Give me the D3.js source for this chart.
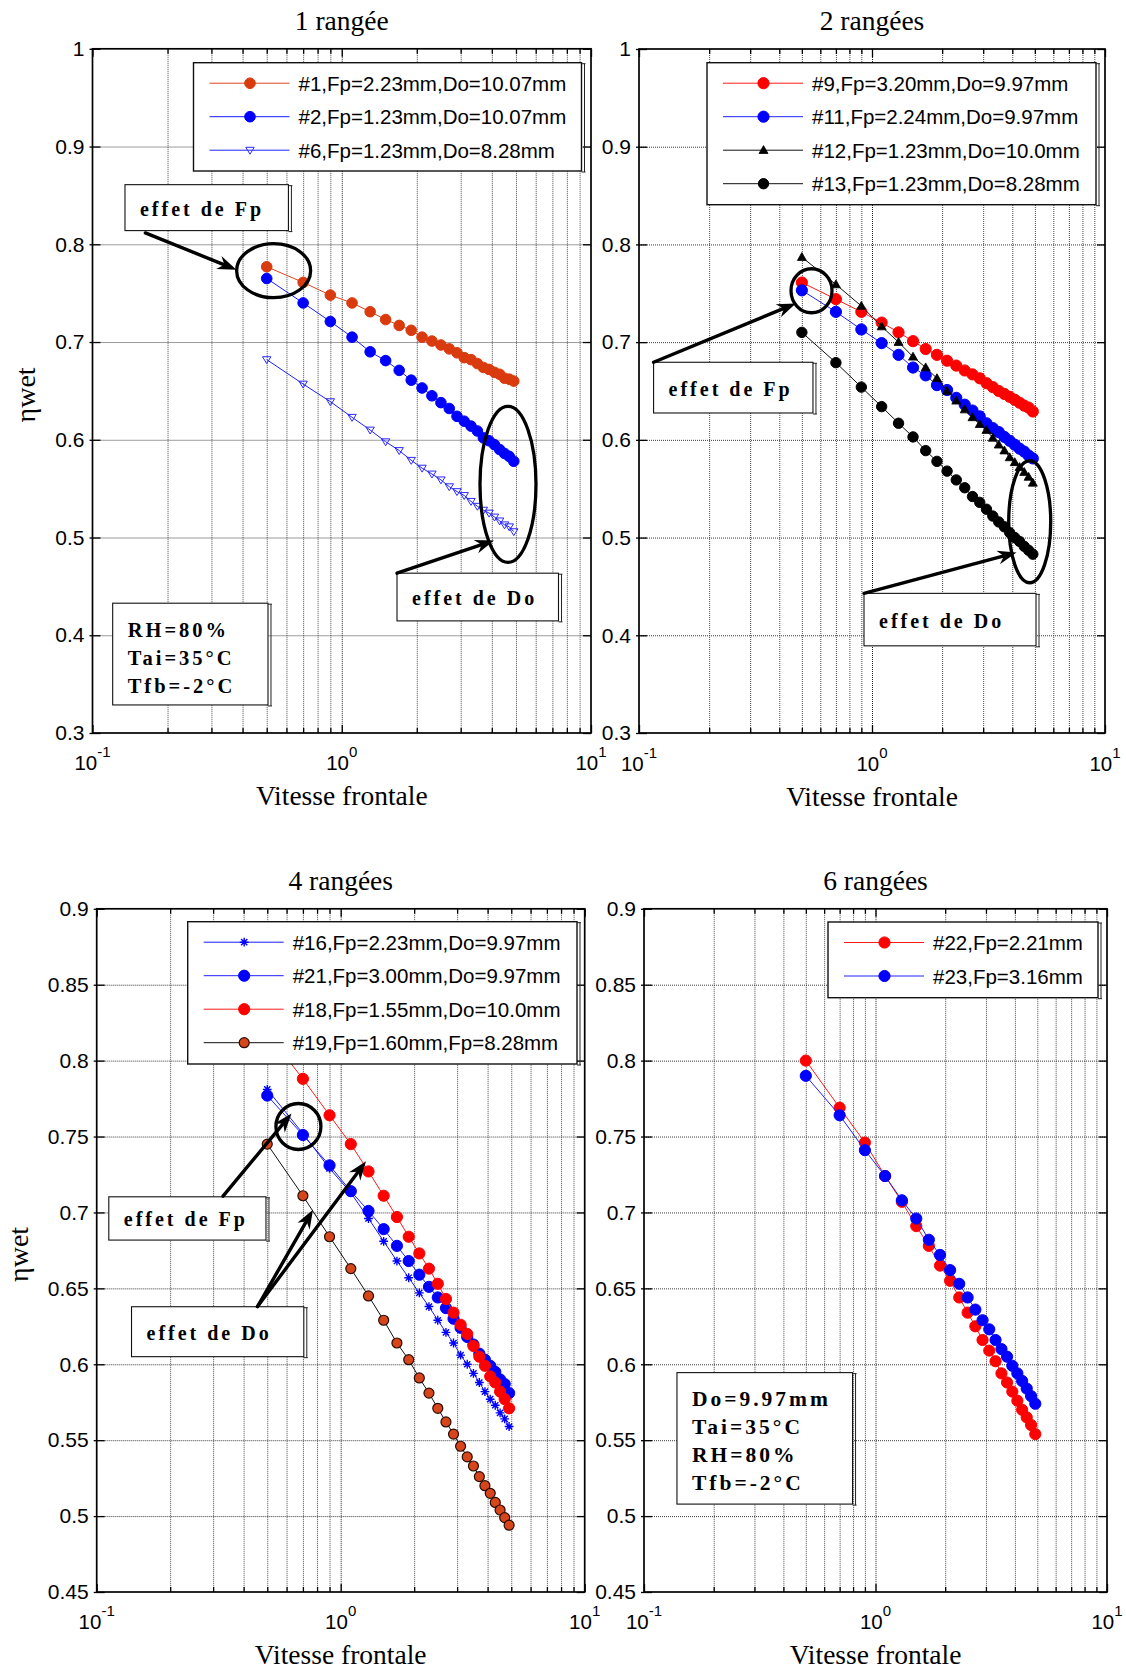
<!DOCTYPE html>
<html>
<head>
<meta charset="utf-8">
<script src="https://cdn.jsdelivr.net/npm/d3@7"></script>
<style>
  html, body { margin: 0; padding: 0; background: #fff; }
  svg { display: block; }
</style>
</head>
<body>
<svg id="fig" width="1126" height="1675"></svg>
<script>
// ---- Data ---------------------------------------------------------------
// Frontal air velocity samples, common to every coil tested (m/s)
const vitesse = [0.5,0.7,0.9,1.1,1.3,1.5,1.7,1.9,2.1,2.3,2.5,2.7,2.9,3.1,3.3,3.5,3.7,3.9,4.1,4.3,4.5,4.7,4.9];

// Wet fin efficiency, 1 row
const eta1  = [0.777,0.761,0.748,0.740,0.731,0.723,0.717,0.712,0.705,0.701,0.697,0.693,0.689,0.684,0.682,0.678,0.674,0.672,0.669,0.667,0.663,0.662,0.660];
const eta2  = [0.765,0.740,0.721,0.705,0.690,0.681,0.671,0.661,0.653,0.645,0.638,0.632,0.624,0.619,0.614,0.609,0.602,0.599,0.595,0.590,0.586,0.583,0.578];
const eta6  = [0.682,0.657,0.639,0.623,0.610,0.598,0.589,0.579,0.571,0.565,0.559,0.552,0.547,0.543,0.537,0.532,0.528,0.525,0.521,0.517,0.513,0.511,0.506];

// 2 rows
const eta9  = [0.761,0.744,0.731,0.720,0.710,0.701,0.693,0.687,0.681,0.676,0.671,0.667,0.663,0.658,0.654,0.650,0.647,0.644,0.641,0.638,0.635,0.633,0.629];
const eta11 = [0.753,0.731,0.713,0.699,0.687,0.674,0.666,0.656,0.651,0.643,0.636,0.630,0.624,0.617,0.612,0.608,0.603,0.599,0.595,0.591,0.588,0.584,0.581];
const eta12 = [0.787,0.759,0.737,0.716,0.700,0.685,0.674,0.663,0.650,0.640,0.631,0.623,0.616,0.610,0.602,0.595,0.589,0.582,0.577,0.572,0.567,0.562,0.556];
const eta13 = [0.710,0.679,0.654,0.634,0.617,0.603,0.589,0.578,0.568,0.559,0.551,0.542,0.536,0.529,0.522,0.516,0.511,0.505,0.500,0.496,0.491,0.487,0.483];

// 4 rows
const eta16 = [0.781,0.752,0.729,0.713,0.696,0.681,0.668,0.657,0.647,0.638,0.629,0.621,0.614,0.606,0.600,0.594,0.588,0.582,0.577,0.573,0.568,0.564,0.559];
const eta21 = [0.777,0.751,0.731,0.714,0.701,0.689,0.678,0.668,0.659,0.651,0.644,0.637,0.630,0.624,0.618,0.613,0.607,0.603,0.599,0.595,0.590,0.587,0.581];
const eta18 = [0.818,0.788,0.764,0.745,0.727,0.711,0.697,0.684,0.673,0.663,0.653,0.643,0.634,0.626,0.620,0.612,0.605,0.599,0.592,0.588,0.582,0.577,0.571];
const eta19 = [0.745,0.711,0.684,0.663,0.645,0.629,0.614,0.603,0.591,0.581,0.571,0.562,0.554,0.546,0.539,0.533,0.526,0.520,0.515,0.509,0.504,0.499,0.494];

// 6 rows
const eta22 = [0.800,0.769,0.746,0.724,0.707,0.691,0.678,0.665,0.655,0.644,0.634,0.625,0.616,0.609,0.602,0.594,0.588,0.582,0.576,0.570,0.565,0.560,0.554];
const eta23 = [0.790,0.764,0.741,0.724,0.708,0.696,0.682,0.672,0.662,0.653,0.644,0.636,0.629,0.623,0.616,0.610,0.605,0.599,0.594,0.589,0.584,0.579,0.574];

// Legend entries
const legend1 = ["#1,Fp=2.23mm,Do=10.07mm", "#2,Fp=1.23mm,Do=10.07mm", "#6,Fp=1.23mm,Do=8.28mm"];
const legend2 = ["#9,Fp=3.20mm,Do=9.97mm", "#11,Fp=2.24mm,Do=9.97mm", "#12,Fp=1.23mm,Do=10.0mm", "#13,Fp=1.23mm,Do=8.28mm"];
const legend4 = ["#16,Fp=2.23mm,Do=9.97mm", "#21,Fp=3.00mm,Do=9.97mm", "#18,Fp=1.55mm,Do=10.0mm", "#19,Fp=1.60mm,Fp=8.28mm"];
const legend6 = ["#22,Fp=2.21mm", "#23,Fp=3.16mm"];

// Titles and axis text
const titles = ["1 rangée", "2 rangées", "4 rangées", "6 rangées"];
const xAxisLabel = "Vitesse frontale";
const yAxisLabel = "ηwet";

// Tick values and labels
const yTicksA  = [0.3,0.4,0.5,0.6,0.7,0.8,0.9,1];
const yLabelsA = ["0.3","0.4","0.5","0.6","0.7","0.8","0.9","1"];
const yTicksB  = [0.45,0.5,0.55,0.6,0.65,0.7,0.75,0.8,0.85,0.9];
const yLabelsB = ["0.45","0.5","0.55","0.6","0.65","0.7","0.75","0.8","0.85","0.9"];
const xDecades = [0.1, 1, 10];
const xDecadeExponents = ["-1", "0", "1"];

// Annotation texts
const noteFp = "effet de Fp";
const noteDo = "effet de Do";
const conditions1 = ["RH=80%", "Tai=35°C", "Tfb=-2°C"];
const conditions6 = ["Do=9.97mm", "Tai=35°C", "RH=80%", "Tfb=-2°C"];

// ---- Styles -------------------------------------------------------------
const SANS  = "'Liberation Sans', Arial, Helvetica, sans-serif";
const SERIF = "'Liberation Serif', 'Times New Roman', Times, serif";

const ST = {
  orange:  { line: "#e0441c", marker: "circle", fill: "#d93a0e", stroke: "#d93a0e", r: 5.3 },
  blue:    { line: "#1a1aff", marker: "circle", fill: "#0000ff", stroke: "#0000ff", r: 5.3 },
  blueTri: { line: "#2020ff", marker: "triDown", fill: "none", stroke: "#2a2aff", sw: 1 },
  red:     { line: "#ff1a1a", marker: "circle", fill: "#ff0000", stroke: "#ff0000", r: 5.6 },
  blue2:   { line: "#2020ff", marker: "circle", fill: "#0000ff", stroke: "#0000ff", r: 5.6 },
  blackTri:{ line: "#111", marker: "triUp", fill: "#000", stroke: "#000", sw: 0.8 },
  black:   { line: "#111", marker: "circle", fill: "#000", stroke: "#000", r: 5.2 },
  blueStar:{ line: "#1a1aff", marker: "star", fill: "none", stroke: "#0000ff", sw: 1.4 },
  brick:   { line: "#111", marker: "circle", fill: "#d7461a", stroke: "#2a0c04", r: 5, sw: 1.2 }
};

const SHAPES = {
  triDown: "M-4.2,-2.9L4.2,-2.9L0,4Z",
  triUp:   "M-4.5,3.3L4.5,3.3L0,-4.6Z",
  star:    "M0,-4.4V4.4M-4.4,0H4.4M-3.1,-3.1L3.1,3.1M-3.1,3.1L3.1,-3.1"
};

// ---- Panel layout -------------------------------------------------------
const panels = [
  {
    left: 92.5, right: 591, top: 48.8, bottom: 733,
    yDomain: [0.3, 1], yTicks: yTicksA, yLabels: yLabelsA,
    title: titles[0], yLabelX: 35,
    series: [
      { name: legend1[0], values: eta1, st: ST.orange },
      { name: legend1[1], values: eta2, st: ST.blue },
      { name: legend1[2], values: eta6, st: ST.blueTri }
    ],
    legend: { x: 101, y: 13.9, w: 388, h: 108.3 },
    notes: [
      { type: "box", x: [0.135, 0.611], y: [0.861, 0.814], lines: [noteFp] },
      { type: "arrow", from: [0.163, 0.8116], to: [0.378, 0.774] },
      { type: "ellipse", c: [0.533, 0.773], rx: 37, ry: 27 },
      { type: "ellipse", c: [4.645, 0.5544], rx: 28, ry: 78 },
      { type: "box", x: [1.666, 7.406], y: [0.4635, 0.4147], lines: [noteDo] },
      { type: "arrow", from: [1.666, 0.4635], to: [4.081, 0.4969] },
      { type: "box", x: [0.1205, 0.5059], y: [0.4328, 0.3287], lines: conditions1, size: 20.5 }
    ]
  },
  {
    left: 639, right: 1105, top: 49, bottom: 733,
    yDomain: [0.3, 1], yTicks: yTicksA, yLabels: yLabelsA,
    title: titles[1], yLabelX: null,
    series: [
      { name: legend2[0], values: eta9,  st: ST.red },
      { name: legend2[1], values: eta11, st: ST.blue2 },
      { name: legend2[2], values: eta12, st: ST.blackTri },
      { name: legend2[3], values: eta13, st: ST.black }
    ],
    legend: { x: 68, y: 13.7, w: 389, h: 142 },
    notes: [
      { type: "ellipse", c: [0.550, 0.7526], rx: 20.5, ry: 22 },
      { type: "box", x: [0.1155, 0.558], y: [0.6794, 0.6275], lines: [noteFp] },
      { type: "arrow", from: [0.1155, 0.6794], to: [0.471, 0.7396] },
      { type: "ellipse", c: [4.752, 0.5162], rx: 21, ry: 61 },
      { type: "box", x: [0.924, 5.057], y: [0.4429, 0.3892], lines: [noteDo] },
      { type: "arrow", from: [0.924, 0.4429], to: [4.171, 0.4846] }
    ]
  },
  {
    left: 96.7, right: 584.7, top: 908.8, bottom: 1592,
    yDomain: [0.45, 0.9], yTicks: yTicksB, yLabels: yLabelsB,
    title: titles[2], yLabelX: 28,
    series: [
      { name: legend4[0], values: eta16, st: ST.blueStar },
      { name: legend4[1], values: eta21, st: ST.blue2 },
      { name: legend4[2], values: eta18, st: ST.red },
      { name: legend4[3], values: eta19, st: ST.brick }
    ],
    legend: { x: 91, y: 12.9, w: 389.3, h: 142.3 },
    notes: [
      { type: "ellipse", c: [0.671, 0.7566], rx: 22.5, ry: 23 },
      { type: "box", x: [0.1121, 0.494], y: [0.7103, 0.6818], lines: [noteFp] },
      { type: "arrow", from: [0.3294, 0.7107], to: [0.6286, 0.7651] },
      { type: "box", x: [0.1389, 0.706], y: [0.6379, 0.605], lines: [noteDo] },
      { type: "arrow", from: [0.456, 0.638], to: [0.770, 0.7017] },
      { type: "arrow", from: [0.456, 0.638], to: [1.270, 0.7337] }
    ]
  },
  {
    left: 644, right: 1107, top: 908.8, bottom: 1592,
    yDomain: [0.45, 0.9], yTicks: yTicksB, yLabels: yLabelsB,
    title: titles[3], yLabelX: null,
    series: [
      { name: legend6[0], values: eta22, st: ST.red },
      { name: legend6[1], values: eta23, st: ST.blue2 }
    ],
    legend: { x: 184, y: 13.2, w: 270, h: 75.7 },
    notes: [
      { type: "box", x: [0.1388, 0.796], y: [0.5945, 0.5079], lines: conditions6, size: 21.5 }
    ]
  }
];

// ---- Drawing ------------------------------------------------------------
const svg = d3.select("#fig");
svg.append("rect").attr("width", 1126).attr("height", 1675).attr("fill", "#fff");

const minorTicks = d3.range(1, 10).map(k => k / 10).concat(d3.range(1, 11));
const gridValues = minorTicks.filter(v => v > 0.1 && v < 10);

function drawMarker(sel, st) {
  if (st.marker === "circle") {
    sel.append("circle").attr("r", st.r)
      .attr("fill", st.fill).attr("stroke", st.stroke).attr("stroke-width", st.sw || 1);
  } else {
    sel.append("path").attr("d", SHAPES[st.marker])
      .attr("fill", st.fill).attr("stroke", st.stroke).attr("stroke-width", st.sw || 1)
      .attr("stroke-linejoin", "miter");
  }
}

function bracketBox(g, x, y, w, h, sw) {
  g.append("rect").attr("x", x).attr("y", y).attr("width", w).attr("height", h)
    .attr("fill", "#fff").attr("stroke", "#111").attr("stroke-width", sw);
  g.append("path")
    .attr("d", `M${x + w},${y + 1}h4M${x + w + 3},${y + 1}v${h}M${x + w},${y + h + 1}h4`)
    .attr("fill", "none").attr("stroke", "#222").attr("stroke-width", 1);
}

function drawArrow(g, x1, y1, x2, y2) {
  const a = Math.atan2(y2 - y1, x2 - x1), ca = Math.cos(a), sa = Math.sin(a);
  const L = 19, Wd = 7, notch = 6;
  const bx = x2 - L * ca, by = y2 - L * sa;
  const nx = x2 - (L - notch) * ca, ny = y2 - (L - notch) * sa;
  g.append("line").attr("x1", x1).attr("y1", y1).attr("x2", nx).attr("y2", ny)
    .attr("stroke", "#000").attr("stroke-width", 3.4).attr("stroke-linecap", "round");
  const pts = [[x2, y2], [bx - Wd * sa, by + Wd * ca], [nx, ny], [bx + Wd * sa, by - Wd * ca]];
  g.append("path").attr("d", "M" + pts.map(p => p.join(",")).join("L") + "Z").attr("fill", "#000");
}

panels.forEach(p => {
  const W = p.right - p.left, H = p.bottom - p.top;
  const x = d3.scaleLog().domain([0.1, 10]).range([0, W]);
  const y = d3.scaleLinear().domain(p.yDomain).range([H, 0]);
  const g = svg.append("g").attr("transform", `translate(${p.left},${p.top})`);

  // Dotted grid
  const gx = g.append("g")
    .call(d3.axisBottom(x).tickValues(gridValues).tickSize(H).tickFormat(""));
  gx.select(".domain").remove();
  gx.selectAll("line")
    .attr("stroke", d => (d === 1 ? "#222" : "#4a4a4a"))
    .attr("stroke-width", 1).attr("stroke-dasharray", "1,1");

  const gy = g.append("g")
    .call(d3.axisLeft(y).tickValues(p.yTicks.filter((v, i) => i > 0 && i < p.yTicks.length - 1)).tickSize(-W).tickFormat(""));
  gy.select(".domain").remove();
  gy.selectAll("line").attr("stroke", "#3a3a3a").attr("stroke-width", 1).attr("stroke-dasharray", "1,1");

  // Series
  p.series.forEach(s => {
    const pts = vitesse.map((v, i) => [v, s.values[i]]);
    g.append("path").datum(pts)
      .attr("d", d3.line().x(d => x(d[0])).y(d => y(d[1])))
      .attr("fill", "none").attr("stroke", s.st.line).attr("stroke-width", 1);
    g.append("g").selectAll("g").data(pts).join("g")
      .attr("transform", d => `translate(${x(d[0])},${y(d[1])})`)
      .each(function () { drawMarker(d3.select(this), s.st); });
  });

  // Frame
  g.append("rect").attr("width", W).attr("height", H)
    .attr("fill", "none").attr("stroke", "#000").attr("stroke-width", 1.7);

  // Y ticks (left with labels, right inward)
  const ay = g.append("g")
    .call(d3.axisLeft(y).tickValues(p.yTicks).tickFormat((d, i) => p.yLabels[i])
      .tickSizeInner(-8).tickSizeOuter(0).tickPadding(8));
  ay.select(".domain").remove();
  ay.attr("font-family", SANS).attr("font-size", 21).attr("color", "#000");
  ay.selectAll("line").attr("stroke-width", 1.3).attr("x1", -3);

  const ayr = g.append("g").attr("transform", `translate(${W},0)`)
    .call(d3.axisRight(y).tickValues(p.yTicks).tickFormat("").tickSizeInner(-8).tickSizeOuter(0));
  ayr.select(".domain").remove();
  ayr.selectAll("line").attr("stroke", "#000").attr("stroke-width", 1.3);

  // X ticks on top and bottom (inward, longer at decades)
  const tickLen = d => (xDecades.includes(d) ? 8 : 5);
  const axb = g.append("g").attr("transform", `translate(0,${H})`)
    .call(d3.axisBottom(x).tickValues(minorTicks).tickFormat("").tickSizeOuter(0));
  axb.select(".domain").remove();
  axb.selectAll("line").attr("y2", d => -tickLen(d)).attr("stroke", "#000").attr("stroke-width", 1.3);
  const axt = g.append("g")
    .call(d3.axisTop(x).tickValues(minorTicks).tickFormat("").tickSizeOuter(0));
  axt.select(".domain").remove();
  axt.selectAll("line").attr("y2", d => tickLen(d)).attr("stroke", "#000").attr("stroke-width", 1.3);

  // Decade labels 10^n
  const lab = g.append("g").attr("font-family", SANS).attr("font-size", 20.5).attr("fill", "#000");
  xDecades.forEach((d, i) => {
    const t = lab.append("text").attr("x", x(d)).attr("y", H + 37.5).attr("text-anchor", "middle");
    t.append("tspan").text("10");
    t.append("tspan").attr("dy", -13).attr("font-size", 15).text(xDecadeExponents[i]);
  });

  // Titles and axis labels
  g.append("text").attr("x", W / 2).attr("y", -19).attr("text-anchor", "middle")
    .attr("font-family", SERIF).attr("font-size", 27.5).text(p.title);
  g.append("text").attr("x", W / 2).attr("y", H + 72.5).attr("text-anchor", "middle")
    .attr("font-family", SERIF).attr("font-size", 27.5).text(xAxisLabel);
  if (p.yLabelX !== null) {
    const cx = p.yLabelX - p.left, cy = H / 2 + 4;
    g.append("text").attr("transform", `translate(${cx},${cy}) rotate(-90)`)
      .attr("text-anchor", "middle").attr("font-family", SERIF).attr("font-size", 28)
      .text(yAxisLabel);
  }

  // Legend
  const L = p.legend;
  const lg = g.append("g").attr("transform", `translate(${L.x},${L.y})`);
  bracketBox(lg, 0, 0, L.w, L.h, 1.4);
  p.series.forEach((s, i) => {
    const ry = 20.5 + i * 33.5;
    lg.append("line").attr("x1", 16).attr("x2", 96).attr("y1", ry).attr("y2", ry)
      .attr("stroke", s.st.line).attr("stroke-width", 1);
    drawMarker(lg.append("g").attr("transform", `translate(56.5,${ry})`), s.st);
    lg.append("text").attr("x", 105).attr("y", ry + 7.5)
      .attr("font-family", SANS).attr("font-size", 20.5).attr("fill", "#000").text(s.name);
  });

  // Annotations
  const ng = g.append("g");
  p.notes.forEach(n => {
    if (n.type === "ellipse") {
      ng.append("ellipse").attr("cx", x(n.c[0])).attr("cy", y(n.c[1]))
        .attr("rx", n.rx).attr("ry", n.ry)
        .attr("fill", "none").attr("stroke", "#000").attr("stroke-width", 3.3);
    } else if (n.type === "arrow") {
      drawArrow(ng, x(n.from[0]), y(n.from[1]), x(n.to[0]), y(n.to[1]));
    } else if (n.type === "box") {
      const bx = x(n.x[0]), bw = x(n.x[1]) - bx;
      const by = y(n.y[0]), bh = y(n.y[1]) - by;
      bracketBox(ng, bx, by, bw, bh, 1.1);
      const fs = n.size || 20;
      const t = ng.append("text").attr("font-family", SERIF).attr("font-weight", "bold")
        .attr("font-size", fs).attr("letter-spacing", 3).attr("fill", "#000");
      if (n.lines.length === 1) {
        t.attr("x", bx + 15).attr("y", by + bh / 2 + 8).text(n.lines[0]);
      } else {
        n.lines.forEach((ln, i) => {
          t.append("tspan").attr("x", bx + 15).attr("y", by + 33.5 + i * 28).text(ln);
        });
      }
    }
  });
});
</script>
</body>
</html>
